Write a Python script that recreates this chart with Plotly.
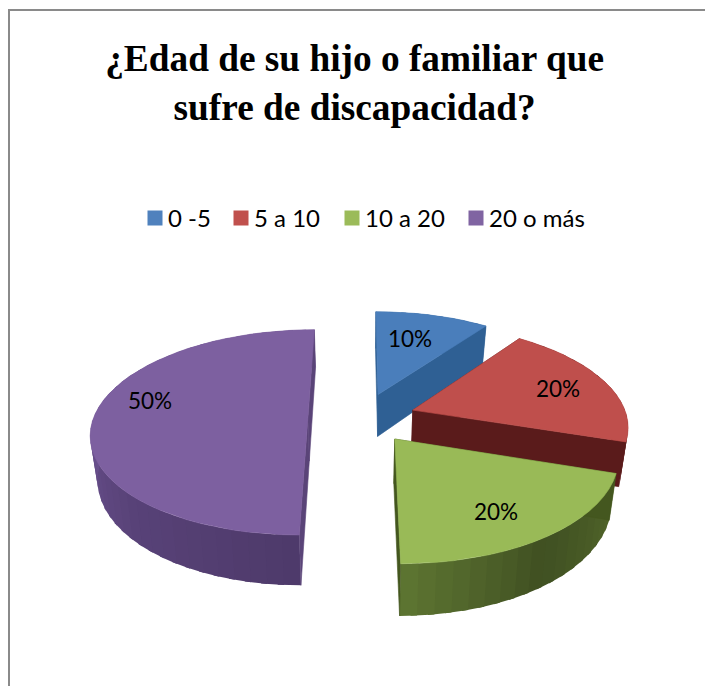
import math
import plotly.graph_objects as go

# ---- data ----
categories = ["0 -5", "5 a 10", "10 a 20", "20 o más"]
values = [10, 20, 20, 50]
title_lines = ["¿Edad de su hijo o familiar que", "sufre de discapacidad?"]

# ---- styles ----
top_colors = ["#4a7ebb", "#bf4f4c", "#99ba57", "#7d60a0"]
legend_colors = ["#4f81bd", "#c0504d", "#9bbb59", "#8064a2"]
face_colors = ["#2f6094", "#5a1b1b", "#44571f", "#5a4478"]
# side-wall colour stops: (angle in degrees, rgb)
wall_stops = [
    [(0, (47, 96, 148)), (36, (47, 96, 148))],
    [(36, (90, 27, 27)), (108, (96, 30, 30))],
    [(108, (82, 102, 42)), (145, (64, 80, 34)), (180, (94, 118, 50))],
    [(180, (78, 58, 106)), (225, (88, 66, 120)), (270, (106, 80, 142)), (360, (106, 80, 142))],
]
label_shift_deg = [-3, 0, 3, 13]
label_radius = [0.67, 0.75, 0.74, 0.78]
legend_swatch_left = [147, 233, 344, 468]

# ---- projection of the tilted, exploded pie ----
VX, VY, Y0 = 360.0, -295.0, 430.0     # vanishing point and reference line
CX, CK = 362.0, 0.017                 # pie centre
RADIUS, RK = 218.0, 0.1435            # radius across / along the depth
EXPLODE = 55.0
HEIGHT = 44.0
CONVERGE = 0.027


def project(world_x, world_k):
    s = 1.0 / (1.0 + world_k)
    return VX + (world_x - VX) * s, VY + (Y0 - VY) * s, s


def lower(px, py, s):
    return px + (VX - px) * CONVERGE, py + HEIGHT * s


def shade(stops, a):
    for (a0, c0), (a1, c1) in zip(stops, stops[1:]):
        if a0 <= a <= a1:
            t = (a - a0) / (a1 - a0)
            rgb = [round(p + (q - p) * t) for p, q in zip(c0, c1)]
            return f"rgb({rgb[0]},{rgb[1]},{rgb[2]})"
    return f"rgb{stops[-1][1]}"


total = sum(values)
slices = []
start = 0.0
for v in values:
    sweep = 360.0 * v / total
    slices.append((start, start + sweep))
    start += sweep


def slice_origin(a0, a1):
    mid = math.radians((a0 + a1) / 2)
    return (CX + EXPLODE * math.sin(mid),
            CK + EXPLODE * RK / RADIUS * math.cos(mid))


def rim(ox, ok, deg, r=1.0):
    t = math.radians(deg)
    return project(ox + r * RADIUS * math.sin(t), ok + r * RK * math.cos(t))


def poly(fig, xs, ys, color, width=0.6):
    fig.add_trace(go.Scatter(
        x=xs, y=ys, mode="lines", fill="toself", fillcolor=color,
        line=dict(color=color, width=width), showlegend=False, hoverinfo="skip"))


fig = go.Figure()
# draw back to front: blue, red, purple, green
for i in [0, 1, 3, 2]:
    a0, a1 = slices[i]
    ox, ok = slice_origin(a0, a1)
    steps = max(6, int((a1 - a0) / 4))
    angles = [a0 + (a1 - a0) * n / steps for n in range(steps + 1)]
    # outer wall in overlapping strips so the shading can vary smoothly
    for p, q in zip(angles, angles[1:]):
        q2 = min(a1, q + 1.5)
        x1, y1, s1 = rim(ox, ok, p)
        x2, y2, s2 = rim(ox, ok, q2)
        lx1, ly1 = lower(x1, y1, s1)
        lx2, ly2 = lower(x2, y2, s2)
        poly(fig, [x1, x2, lx2, lx1, x1], [y1, y2, ly2, ly1, y1],
             shade(wall_stops[i], (p + q) / 2), width=0)
    # cut faces
    ax, ay, asc = project(ox, ok)
    alx, aly = lower(ax, ay, asc)
    for edge in (a0, a1):
        ex, ey, es = rim(ox, ok, edge)
        elx, ely = lower(ex, ey, es)
        poly(fig, [ax, ex, elx, alx, ax], [ay, ey, ely, aly, ay], face_colors[i])
    # top
    pts = [rim(ox, ok, a) for a in angles]
    poly(fig, [ax] + [p[0] for p in pts] + [ax], [ay] + [p[1] for p in pts] + [ay],
         top_colors[i])

# legend entries, one small legend per entry so each sits at its own spot
legend_layout = {}
for i, (name, color) in enumerate(zip(categories, legend_colors)):
    key = "legend" if i == 0 else f"legend{i + 1}"
    fig.add_trace(go.Scatter(
        x=[None], y=[None], mode="markers", name=name, legend=key, showlegend=True,
        marker=dict(symbol="square", size=15, color=color, line=dict(width=0))))
    legend_layout[key] = dict(
        x=(legend_swatch_left[i] - 12.5) / 705, xanchor="left",
        y=1 - 218.5 / 686, yanchor="middle",
        font=dict(family="Lato", size=24, color="#000000"),
        itemwidth=30, indentation=-6.5, bgcolor="rgba(0,0,0,0)")

# percentage labels
annotations = []
for i, v in enumerate(values):
    a0, a1 = slices[i]
    ox, ok = slice_origin(a0, a1)
    lx, ly, _ = rim(ox, ok, (a0 + a1) / 2 + label_shift_deg[i], label_radius[i])
    annotations.append(dict(
        x=lx, y=ly, xref="x", yref="y", text=f"{round(100 * v / total)}%",
        showarrow=False, font=dict(family="Lato", size=22.5, color="#000000")))

fig.update_layout(
    width=705, height=686, margin=dict(l=0, r=0, t=0, b=0),
    paper_bgcolor="#ffffff", plot_bgcolor="#ffffff",
    xaxis=dict(range=[0, 705], visible=False, fixedrange=True),
    yaxis=dict(range=[686, 0], visible=False, fixedrange=True),
    title=dict(text="<br>".join(title_lines), x=0.503, xanchor="center",
               y=0.896, yanchor="top", yref="container",
               font=dict(family="Liberation Serif", size=37.3, color="#000000",
                         weight="bold")),
    annotations=annotations,
    shapes=[
        dict(type="line", xref="x", yref="y", x0=9, y0=10, x1=705, y1=10,
             line=dict(color="#8a8a8a", width=2), layer="below"),
        dict(type="line", xref="x", yref="y", x0=9, y0=9, x1=9, y1=686,
             line=dict(color="#8a8a8a", width=2), layer="below"),
    ],
    **legend_layout,
)

# the swatches sit closer to their text than Plotly's minimum item width allows
nudge = """
document.body.style.margin = '0';
document.querySelectorAll('.legendsymbols').forEach(function (g) {
  g.setAttribute('transform', 'translate(7,0)');
});
"""
fig.write_html("out.html", config={"displayModeBar": False}, post_script=nudge)
